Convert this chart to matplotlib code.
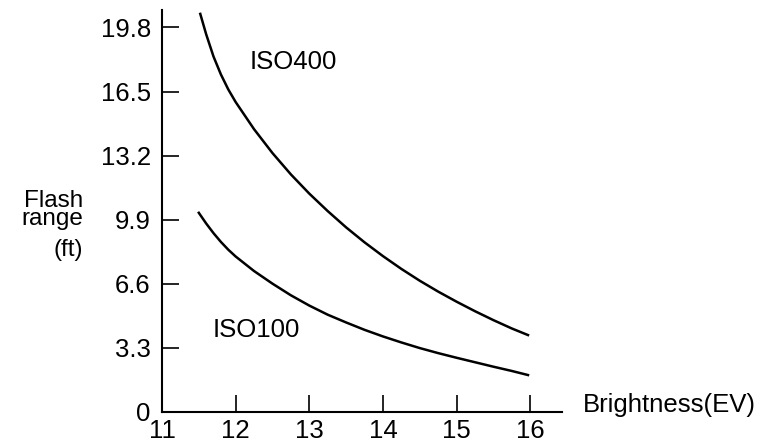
import matplotlib
matplotlib.use("Agg")
import matplotlib.pyplot as plt

plt.rcParams['font.family'] = ['Liberation Sans', 'DejaVu Sans']

# values
ev_400 = [11.52, 11.6, 11.7, 11.8, 11.9, 12.0, 12.25, 12.5, 12.75, 13.0,
          13.25, 13.5, 13.75, 14.0, 14.25, 14.5, 14.75, 15.0, 15.25, 15.5,
          15.75, 15.97]
range_400 = [20.5, 19.45, 18.3, 17.38, 16.61, 15.96, 14.56, 13.33, 12.23, 11.24,
             10.34, 9.5, 8.73, 8.02, 7.36, 6.75, 6.19, 5.67, 5.18, 4.72,
             4.29, 3.95]

ev_100 = [11.5, 11.6, 11.7, 11.8, 11.9, 12.0, 12.25, 12.5, 12.75, 13.0, 13.25,
          13.5, 13.75, 14.0, 14.25, 14.5, 14.75, 15.0, 15.25, 15.5, 15.75, 15.97]
range_100 = [10.25, 9.7, 9.2, 8.75, 8.35, 8.0, 7.25, 6.6, 6.0, 5.47, 5.0,
             4.6, 4.22, 3.88, 3.57, 3.28, 3.02, 2.78, 2.55, 2.32, 2.1, 1.89]

x_ticks = [11, 12, 13, 14, 15, 16]
y_ticks = [0, 3.3, 6.6, 9.9, 13.2, 16.5, 19.8]
y_labels = ["0", "3.3", "6.6", "9.9", "13.2", "16.5", "19.8"]

fs = 18.5

fig = plt.figure(figsize=(7.78, 4.45), dpi=100)
ax = fig.add_axes([0.2082, 0.0748, 0.514, 0.9027])

ax.plot(ev_400, range_400, color="black", lw=1.8)
ax.plot(ev_100, range_100, color="black", lw=1.8)

ax.text(12.19, 18.0, "ISO400", fontsize=fs, va="center", ha="left")
ax.text(11.69, 4.2, "ISO100", fontsize=fs, va="center", ha="left")

ax.set_xlim(11, 16.43)
ax.set_ylim(0, 20.7)

for s in ["top", "right"]:
    ax.spines[s].set_visible(False)
for s in ["left", "bottom"]:
    ax.spines[s].set_linewidth(1.5)

ax.set_xticks(x_ticks)
ax.set_yticks(y_ticks)
ax.set_yticklabels(y_labels)
ax.tick_params(axis="both", direction="in", length=12, width=1.2,
               labelsize=fs)
ax.tick_params(axis="x", pad=5)
ax.tick_params(axis="y", pad=8)

# y label: "Flash range" is set tight, "(ft)" sits lower
fig.text(0.107, 0.483, "Flash\nrange", fontsize=17.5, ha="right", va="bottom",
         multialignment="right", linespacing=0.75)
fig.text(0.107, 0.425, "(ft)", fontsize=17.5, ha="right", va="baseline")

fig.text(0.749, 0.09, "Brightness(EV)", fontsize=fs, ha="left", va="center")

fig.savefig("out.png", dpi=100)
